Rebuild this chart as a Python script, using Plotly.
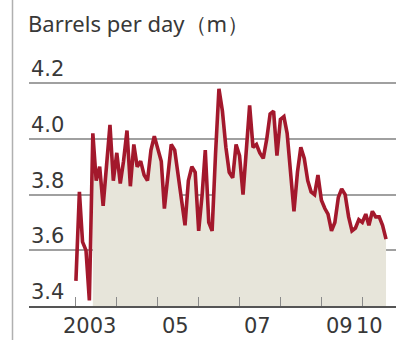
import plotly.graph_objects as go
import pandas as pd

# Monthly values, Jan 2003 onward (million barrels per day)
values = [
    3.49, 3.81, 3.63, 3.60, 3.42, 4.02, 3.85, 3.90, 3.76, 3.90, 4.05, 3.85,
    3.95, 3.84, 3.92, 4.03, 3.83, 3.98, 3.90, 3.92, 3.87, 3.85, 3.96, 4.01,
    3.97, 3.92, 3.75, 3.86, 3.98, 3.96, 3.87, 3.80, 3.69, 3.85, 3.90, 3.88,
    3.67, 3.80, 3.96, 3.70, 3.67, 3.95, 4.18, 4.10, 3.97, 3.88, 3.86, 3.98,
    3.94, 3.80, 3.95, 4.12, 3.97, 3.98, 3.95, 3.93, 4.00, 4.09, 4.10, 3.94,
    4.07, 4.08, 4.02, 3.88, 3.74, 3.88, 3.97, 3.93, 3.85, 3.81, 3.80, 3.87,
    3.78, 3.75, 3.73, 3.67, 3.70, 3.79, 3.82, 3.80, 3.72, 3.67, 3.68, 3.71,
    3.70, 3.73, 3.69, 3.74, 3.72, 3.72, 3.69, 3.64,
]
start_month = "2003-01-01"
fill_start_index = 5

y_ticks = [3.4, 3.6, 3.8, 4.0, 4.2]
y_tick_labels = ["3.4", "3.6", "3.8", "4.0", "4.2"]
x_tick_marks = ["2003-01-01", "2004-01-01", "2005-01-01", "2006-01-01",
                "2007-01-01", "2008-01-01", "2009-01-01", "2010-01-01"]
x_label_pos = ["2003-05-05", "2005-06-12", "2007-06-13", "2009-06-15", "2010-03-10"]
x_labels = ["2003", "05", "07", "09", "10"]
title_text = "Barrels per day（m）"

dates = pd.date_range(start_month, periods=len(values), freq="MS")

W, H = 396, 340
TFONT = "Noto Sans"
NFONT = "DejaVu Sans"
LINE = "#a3182c"
FILL = "#e7e5da"
TXT = "#383838"

fig = go.Figure()
fig.add_trace(go.Scatter(
    x=dates[fill_start_index:], y=values[fill_start_index:],
    mode="lines", line=dict(width=0, color=FILL),
    fill="tozeroy", fillcolor=FILL, hoverinfo="skip", showlegend=False))
fig.add_trace(go.Scatter(
    x=dates, y=values, mode="lines",
    line=dict(color=LINE, width=3.6, shape="linear"),
    showlegend=False))

x_left = 29 / W
fig.update_layout(
    width=W, height=H,
    margin=dict(l=0, r=0, t=0, b=0),
    paper_bgcolor="white", plot_bgcolor="white",
    xaxis=dict(
        domain=[x_left, 1],
        range=["2001-11-08", "2010-10-29"],
        tickvals=x_tick_marks, ticktext=[""] * len(x_tick_marks),
        ticks="inside", ticklen=9, tickwidth=1.2, tickcolor="#8a8a8a",
        showgrid=False, zeroline=False,
        showline=True, linecolor="#555555", linewidth=2,
    ),
    yaxis=dict(
        domain=[34 / H, 300 / H],
        range=[3.4, 3.4 + (306 - 40) / 278.5],
        tickvals=y_ticks[1:], showticklabels=False,
        showgrid=True, gridcolor="#a0a0a0", gridwidth=1.5,
        zeroline=False, showline=False, ticks="",
    ),
)

annotations = []
for v, t in zip(y_ticks, y_tick_labels):
    annotations.append(dict(
        x=x_left, xref="paper", xanchor="left",
        y=v, yref="y", yanchor="bottom", yshift=0,
        text=t, showarrow=False,
        font=dict(family=NFONT, size=21, color=TXT)))
for d, t in zip(x_label_pos, x_labels):
    annotations.append(dict(
        x=d, xref="x", xanchor="center",
        y=34 / H, yref="paper", yanchor="top", yshift=-6,
        text=t, showarrow=False,
        font=dict(family=NFONT, size=21, color=TXT)))
annotations.append(dict(
    x=26 / W, xref="paper", xanchor="left",
    y=1 - 6 / H, yref="paper", yanchor="top",
    text=title_text, showarrow=False,
    font=dict(family=TFONT, size=22, color=TXT)))
fig.update_layout(annotations=annotations)

fig.add_shape(type="line", xref="paper", yref="paper",
              x0=12.5 / W, x1=12.5 / W, y0=0, y1=1,
              line=dict(color="#b0b0b0", width=1.5))

fig.write_html("out.html")
